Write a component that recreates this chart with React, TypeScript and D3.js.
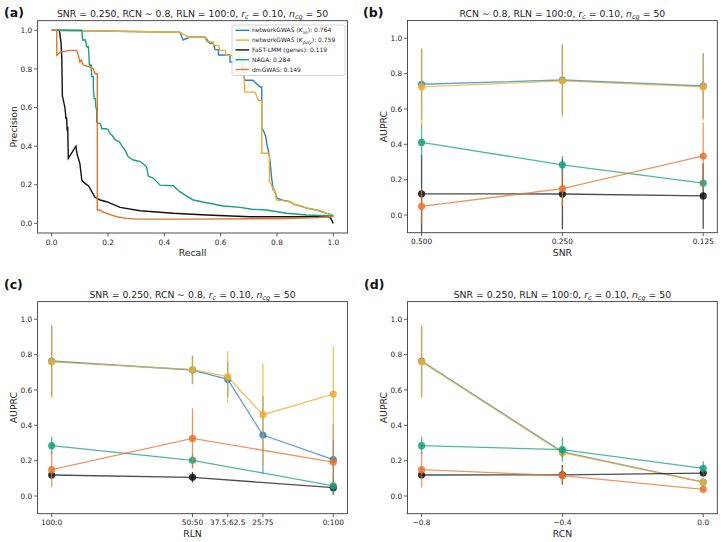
import React from "react";
import * as d3 from "d3";

const FONT = "'DejaVu Sans', sans-serif";

// ---------- series meta ----------
const methodNames = ["networkGWAS", "networkGWAS", "FaST-LMM (genes)", "NAGA", "dmGWAS"];
const kernelSubs = ["lin", "poly", "", "", ""];
const legendScores = ["0.764", "0.759", "0.119", "0.284", "0.149"];
const colors = ["#2a83c0", "#ecae2f", "#111111", "#16a07d", "#e8732f"];

// ---------- panel (a): precision-recall curves [recall, precision] ----------
const prKlin: [number, number][] = [
  [0, 1.0], [0.455, 0.99], [0.467, 0.95], [0.49, 0.965], [0.544, 0.965], [0.562, 0.933], [0.574, 0.933],
  [0.58, 0.9], [0.592, 0.9], [0.592, 0.872], [0.633, 0.872], [0.633, 0.836], [0.655, 0.836], [0.66, 0.85],
  [0.672, 0.85], [0.68, 0.78], [0.686, 0.741], [0.715, 0.741], [0.74, 0.706], [0.746, 0.706], [0.746, 0.492],
  [0.751, 0.483], [0.76, 0.45], [0.765, 0.4], [0.769, 0.38], [0.775, 0.327], [0.778, 0.28], [0.781, 0.233],
  [0.787, 0.173], [0.79, 0.175], [0.8, 0.13], [0.81, 0.125], [0.82, 0.12], [0.846, 0.112], [0.86, 0.1],
  [0.87, 0.095], [0.89, 0.088], [0.906, 0.078], [0.93, 0.072], [0.941, 0.069], [0.96, 0.06], [0.977, 0.052],
  [0.994, 0.045], [1.0, 0.038],
];
const prKpoly: [number, number][] = [
  [0, 1.0], [0.455, 0.99], [0.485, 0.965], [0.544, 0.965], [0.55, 0.94], [0.574, 0.94], [0.574, 0.922],
  [0.592, 0.922], [0.598, 0.896], [0.615, 0.896], [0.621, 0.87], [0.64, 0.87], [0.645, 0.86], [0.66, 0.86],
  [0.665, 0.885], [0.675, 0.885], [0.68, 0.85], [0.686, 0.68], [0.722, 0.68], [0.734, 0.637], [0.746, 0.637],
  [0.746, 0.363], [0.773, 0.363], [0.773, 0.216], [0.78, 0.2], [0.787, 0.173], [0.79, 0.173], [0.799, 0.121],
  [0.81, 0.12], [0.83, 0.115], [0.846, 0.112], [0.858, 0.1], [0.87, 0.095], [0.885, 0.088], [0.906, 0.078],
  [0.92, 0.075], [0.941, 0.069], [0.96, 0.06], [0.977, 0.052], [0.994, 0.043], [1.0, 0.038],
];
const prFast: [number, number][] = [
  [0.024, 1.0], [0.027, 1.0], [0.033, 0.94], [0.036, 0.85], [0.038, 0.66], [0.044, 0.62], [0.047, 0.6],
  [0.051, 0.54], [0.053, 0.55], [0.055, 0.48], [0.057, 0.5], [0.059, 0.337], [0.086, 0.4], [0.09, 0.36],
  [0.1, 0.31], [0.107, 0.224], [0.118, 0.207], [0.131, 0.194], [0.146, 0.155], [0.154, 0.135], [0.172, 0.121],
  [0.195, 0.112], [0.243, 0.083], [0.314, 0.065], [0.432, 0.052], [0.55, 0.043], [0.704, 0.034], [0.988, 0.035],
  [1.0, 0.0],
];
const prNaga: [number, number][] = [
  [0, 1.0], [0.107, 1.0], [0.11, 0.95], [0.12, 0.95], [0.124, 0.915], [0.13, 0.915], [0.132, 0.88],
  [0.134, 0.82], [0.14, 0.82], [0.142, 0.76], [0.148, 0.76], [0.148, 0.7], [0.151, 0.646], [0.155, 0.646],
  [0.157, 0.6], [0.16, 0.59], [0.16, 0.527], [0.162, 0.52], [0.172, 0.518], [0.178, 0.49], [0.195, 0.49],
  [0.201, 0.484], [0.207, 0.466], [0.215, 0.455], [0.225, 0.432], [0.24, 0.423], [0.25, 0.4], [0.26, 0.38],
  [0.272, 0.345], [0.29, 0.328], [0.314, 0.32], [0.337, 0.293], [0.343, 0.245], [0.36, 0.235], [0.37, 0.22],
  [0.385, 0.198], [0.432, 0.195], [0.455, 0.164], [0.475, 0.145], [0.503, 0.121], [0.55, 0.107], [0.609, 0.09],
  [0.669, 0.083], [0.71, 0.073], [0.763, 0.069], [0.834, 0.052], [0.905, 0.043], [1.0, 0.038],
];
const prDm: [number, number][] = [
  [0, 1.0], [0.018, 1.0], [0.018, 0.87], [0.03, 0.887], [0.065, 0.896], [0.089, 0.896], [0.095, 0.87],
  [0.1, 0.836], [0.105, 0.846], [0.112, 0.82], [0.135, 0.81], [0.148, 0.8], [0.154, 0.775], [0.162, 0.775],
  [0.162, 0.069], [0.172, 0.069], [0.18, 0.06], [0.195, 0.052], [0.231, 0.034], [0.266, 0.026], [0.305, 0.022],
  [0.5, 0.022], [0.8, 0.024], [0.95, 0.03], [1.0, 0.035],
];
const prCurves = [prKlin, prKpoly, prFast, prNaga, prDm];

// ---------- panel (b): AUPRC vs SNR ----------
const snrLabels = ["0.500", "0.250", "0.125"];
const snrMean = [
  [0.74, 0.764, 0.73],
  [0.725, 0.759, 0.725],
  [0.12, 0.119, 0.108],
  [0.411, 0.284, 0.181],
  [0.049, 0.149, 0.334],
];
const snrErr = [
  [0.2, 0.2, 0.185],
  [0.22, 0.207, 0.19],
  [0.22, 0.2, 0.185],
  [0.1, 0.05, 0.04],
  [0.1, 0.1, 0.19],
];

// ---------- panel (c): AUPRC vs RLN ----------
const rlnLabels = ["100:0", "50:50", "37.5:62.5", "25:75", "0:100"];
const rlnPos = [0, 0.5, 0.625, 0.75, 1.0];
const rlnMean: (number | null)[][] = [
  [0.764, 0.713, 0.66, 0.345, 0.206],
  [0.759, 0.715, 0.675, 0.46, 0.577],
  [0.119, 0.106, null, null, 0.047],
  [0.285, 0.202, null, null, 0.058],
  [0.149, 0.326, null, null, 0.192],
];
const rlnErr: (number | null)[][] = [
  [0.2, 0.08, 0.1, 0.22, 0.2],
  [0.205, 0.08, 0.145, 0.29, 0.27],
  [0.006, 0.03, null, null, 0.01],
  [0.05, 0.04, null, null, 0.05],
  [0.1, 0.17, null, null, 0.12],
];

// ---------- panel (d): AUPRC vs RCN ----------
const rcnLabels = ["\u22120.8", "\u22120.4", "0.0"];
const rcnPos = [-0.8, -0.4, 0.0];
const rcnMean = [
  [0.764, 0.25, 0.079],
  [0.759, 0.245, 0.078],
  [0.119, 0.12, 0.13],
  [0.285, 0.262, 0.157],
  [0.149, 0.115, 0.038],
];
const rcnErr = [
  [0.2, 0.03, 0.02],
  [0.205, 0.03, 0.02],
  [0.006, 0.055, 0.015],
  [0.05, 0.07, 0.04],
  [0.1, 0.05, 0.01],
];

const unitTicks = [0, 0.2, 0.4, 0.6, 0.8, 1.0];

const TITLE_FS = 9.3;
const LABEL_FS = 9.3;
const TICK_FS = 7.4;

function TitleSuffix({ fs }: { fs: number }) {
  const sub = fs * 0.7;
  const d = fs * 0.22;
  return (
    <>
      <tspan fontStyle="italic">r</tspan>
      <tspan fontStyle="italic" fontSize={sub} dy={d}>c</tspan>
      <tspan dy={-d}>{" = 0.10, "}</tspan>
      <tspan fontStyle="italic">n</tspan>
      <tspan fontStyle="italic" fontSize={sub} dy={d}>cg</tspan>
      <tspan dy={-d}>{" = 50"}</tspan>
    </>
  );
}

type Tick = { v: number; label: string };

function Axes(props: {
  id: string;
  x: d3.ScaleLinear<number, number>;
  y: d3.ScaleLinear<number, number>;
  xTicks: Tick[];
  yTicks: Tick[];
  xLabel: string;
  yLabel: string;
  titlePrefix: string;
  letter: string;
  letterX: number;
  letterY: number;
  children?: React.ReactNode;
}) {
  const { id, x, y, xTicks, yTicks, xLabel, yLabel, titlePrefix, letter, letterX, letterY, children } = props;
  const [x0, x1] = x.range();
  const [y1, y0] = y.range();
  const cx = (x0 + x1) / 2;
  const cy = (y0 + y1) / 2;
  return (
    <g>
      <defs>
        <clipPath id={id}>
          <rect x={x0} y={y0} width={x1 - x0} height={y1 - y0} />
        </clipPath>
      </defs>
      <g clipPath={`url(#${id})`}>{children}</g>
      <rect x={x0} y={y0} width={x1 - x0} height={y1 - y0} fill="none" stroke="#3a3a3a" strokeWidth={0.9} />
      {xTicks.map((t, i) => (
        <g key={"xt" + i}>
          <line x1={x(t.v)} x2={x(t.v)} y1={y1} y2={y1 + 3.5} stroke="#3a3a3a" strokeWidth={0.8} />
          <text x={x(t.v)} y={y1 + 11.6} textAnchor="middle" fontSize={TICK_FS} fill="#262626">{t.label}</text>
        </g>
      ))}
      {yTicks.map((t, i) => (
        <g key={"yt" + i}>
          <line x1={x0 - 3.5} x2={x0} y1={y(t.v)} y2={y(t.v)} stroke="#3a3a3a" strokeWidth={0.8} />
          <text x={x0 - 5.3} y={y(t.v)} dy="0.36em" textAnchor="end" fontSize={TICK_FS} fill="#262626">{t.label}</text>
        </g>
      ))}
      <text x={cx} y={y1 + 23} textAnchor="middle" fontSize={LABEL_FS} fill="#262626">{xLabel}</text>
      <text transform={`translate(${x0 - 21},${cy}) rotate(-90)`} textAnchor="middle" fontSize={LABEL_FS} fill="#262626">{yLabel}</text>
      <text x={cx} y={y0 - 4} textAnchor="middle" fontSize={TITLE_FS} fill="#262626">
        {titlePrefix}
        <TitleSuffix fs={TITLE_FS} />
      </text>
      <text x={letterX} y={letterY} fontSize={12.5} fontWeight="bold" fill="#111">{letter}</text>
    </g>
  );
}

function ErrorSeries(props: {
  x: d3.ScaleLinear<number, number>;
  y: d3.ScaleLinear<number, number>;
  pos: number[];
  means: (number | null)[][];
  errs: (number | null)[][];
}) {
  const { x, y, pos, means, errs } = props;
  return (
    <>
      {means.map((row, s) => {
        const pts = row
          .map((m, i) => ({ xv: pos[i], m, e: errs[s][i] }))
          .filter((p) => p.m !== null) as { xv: number; m: number; e: number }[];
        const line = d3.line<{ xv: number; m: number }>().x((p) => x(p.xv)).y((p) => y(p.m));
        return (
          <g key={s}>
            {pts.map((p, i) => (
              <line key={"e" + i} x1={x(p.xv)} x2={x(p.xv)} y1={y(p.m - p.e)} y2={y(p.m + p.e)}
                stroke={colors[s]} strokeWidth={1.3} strokeOpacity={0.75} />
            ))}
            <path d={line(pts) || ""} fill="none" stroke={colors[s]} strokeWidth={1.3} strokeOpacity={0.75} />
            {pts.map((p, i) => (
              <circle key={"c" + i} cx={x(p.xv)} cy={y(p.m)} r={3.6} fill={colors[s]} fillOpacity={0.85} />
            ))}
          </g>
        );
      })}
    </>
  );
}

export default function App() {
  const xA = d3.scaleLinear().domain([-0.05, 1.05]).range([37.6, 347.4]);
  const yA = d3.scaleLinear().domain([-0.05, 1.05]).range([233, 20.65]);
  const xB = d3.scaleLinear().domain([-0.1, 2.1]).range([407.5, 717.3]);
  const yB = d3.scaleLinear().domain([-0.1, 1.1]).range([232.7, 20.6]);
  const xC = d3.scaleLinear().domain([-0.05, 1.05]).range([37.6, 347.4]);
  const yC = d3.scaleLinear().domain([-0.1, 1.1]).range([513.7, 301.6]);
  const xD = d3.scaleLinear().domain([-0.84, 0.04]).range([407.5, 717.3]);
  const yD = d3.scaleLinear().domain([-0.1, 1.1]).range([513.7, 301.6]);

  const fmt1 = d3.format(".1f");
  const unitT = unitTicks.map((v) => ({ v, label: fmt1(v) }));
  const prLine = d3.line<[number, number]>().x((d) => xA(d[0])).y((d) => yA(d[1]));

  const legX = 232, legY = 25, legW = 113, legH = 50.5;

  return (
    <div style={{ width: 724, height: 542, position: "absolute", left: 0, top: 0, background: "#fff" }}>
      <svg width={724} height={542} style={{ display: "block", fontFamily: FONT }}>
        <rect width={724} height={542} fill="#fff" />

        {/* (a) */}
        <Axes id="clipA" x={xA} y={yA} xTicks={unitT} yTicks={unitT} xLabel="Recall" yLabel="Precision"
          titlePrefix={"SNR = 0.250, RCN \u223C 0.8, RLN = 100:0, "} letter="(a)" letterX={4} letterY={17}>
          {prCurves.map((c, i) => (
            <path key={i} d={prLine(c) || ""} fill="none" stroke={colors[i]} strokeWidth={1.4} strokeLinejoin="miter" />
          ))}
        </Axes>
        <g>
          <rect x={legX} y={legY} width={legW} height={legH} rx={2} fill="#fff" fillOpacity={0.85} stroke="#cccccc" strokeWidth={0.8} />
          {methodNames.map((name, i) => {
            const yy = legY + 5.3 + i * 9.8;
            return (
              <g key={i}>
                <line x1={legX + 3.5} x2={legX + 17} y1={yy} y2={yy} stroke={colors[i]} strokeWidth={1.4} />
                <text x={legX + 20} y={yy} dy="0.35em" fontSize={6} fill="#262626">
                  {kernelSubs[i] ? (
                    <>
                      {name + " ("}
                      <tspan fontStyle="italic">K</tspan>
                      <tspan fontStyle="italic" fontSize={4.3} dy={1.3}>{kernelSubs[i]}</tspan>
                      <tspan dy={-1.3}>{"): " + legendScores[i]}</tspan>
                    </>
                  ) : (
                    name + ": " + legendScores[i]
                  )}
                </text>
              </g>
            );
          })}
        </g>

        {/* (b) */}
        <Axes id="clipB" x={xB} y={yB} xTicks={snrLabels.map((l, i) => ({ v: i, label: l }))} yTicks={unitT}
          xLabel="SNR" yLabel="AUPRC" titlePrefix={"RCN \u223C 0.8, RLN = 100:0, "} letter="(b)" letterX={363} letterY={17}>
          <ErrorSeries x={xB} y={yB} pos={snrLabels.map((_, i) => i)} means={snrMean} errs={snrErr} />
        </Axes>

        {/* (c) */}
        <Axes id="clipC" x={xC} y={yC} xTicks={rlnLabels.map((l, i) => ({ v: rlnPos[i], label: l }))} yTicks={unitT}
          xLabel="RLN" yLabel="AUPRC" titlePrefix={"SNR = 0.250, RCN \u223C 0.8, "} letter="(c)" letterX={4} letterY={289}>
          <ErrorSeries x={xC} y={yC} pos={rlnPos} means={rlnMean} errs={rlnErr} />
        </Axes>

        {/* (d) */}
        <Axes id="clipD" x={xD} y={yD} xTicks={rcnLabels.map((l, i) => ({ v: rcnPos[i], label: l }))} yTicks={unitT}
          xLabel="RCN" yLabel="AUPRC" titlePrefix={"SNR = 0.250, RLN = 100:0, "} letter="(d)" letterX={364} letterY={289}>
          <ErrorSeries x={xD} y={yD} pos={rcnPos} means={rcnMean} errs={rcnErr} />
        </Axes>
      </svg>
    </div>
  );
}
